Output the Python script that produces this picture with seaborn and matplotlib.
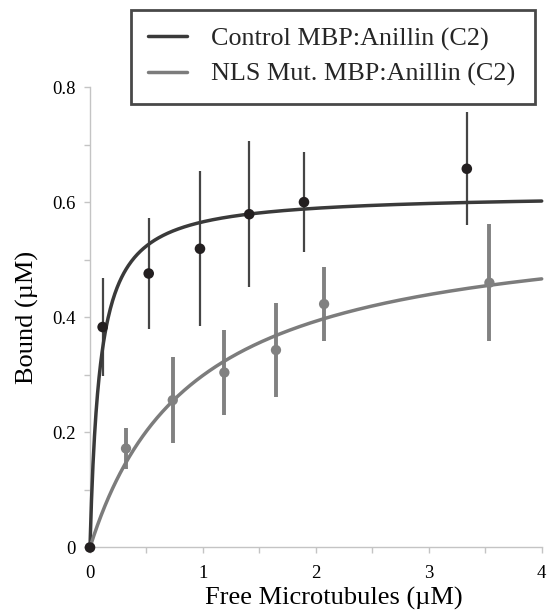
"""Microtubule co-sedimentation binding curves: control vs NLS mutant MBP:Anillin (C2)."""

import matplotlib

matplotlib.use("Agg")

import matplotlib.pyplot as plt
import numpy as np
import pandas as pd
import seaborn as sns
from matplotlib.lines import Line2D


# measured points (free MT in uM, bound in uM, error)
ctrl_free = [0.0, 0.112, 0.52, 0.974, 1.41, 1.895, 3.337]
ctrl_bound = [0.0, 0.383, 0.476, 0.519, 0.579, 0.600, 0.658]
ctrl_err = [0.0, 0.085, 0.096, 0.135, 0.127, 0.087, 0.098]

nls_free = [0.0, 0.319, 0.733, 1.19, 1.647, 2.073, 3.537]
nls_bound = [0.0, 0.172, 0.256, 0.304, 0.343, 0.423, 0.460]
nls_err = [0.0, 0.035, 0.075, 0.073, 0.081, 0.065, 0.102]

# hyperbolic fit parameters (Bmax, Kd)
ctrl_bmax, ctrl_kd = 0.615, 0.087
nls_bmax, nls_kd = 0.574, 0.92

labels = ["Control MBP:Anillin (C2)", "NLS Mut. MBP:Anillin (C2)"]
x_ticks = [0, 0.5, 1, 1.5, 2, 2.5, 3, 3.5, 4]
y_ticks = [0, 0.1, 0.2, 0.3, 0.4, 0.5, 0.6, 0.7, 0.8]

CTRL_LINE = "#3a3a3a"
CTRL_DOT = "#231f20"
NLS_LINE = "#7c7c7c"
NLS_DOT = "#818181"
AXIS = "#c4c4c4"


def binding_curve(bmax, kd, x):
    return bmax * x / (kd + x)


sns.set_theme(style="ticks")
plt.rcParams["font.family"] = ["Liberation Serif", "DejaVu Serif"]

fig = plt.figure(figsize=(5.48, 6.15), dpi=100)
ax = fig.add_axes([0.1642, 0.1098, 0.8243, 0.7487])

x_fit = np.linspace(0, 4, 600)
fit_df = pd.DataFrame(
    {
        "free": np.concatenate([x_fit, x_fit]),
        "bound": np.concatenate(
            [binding_curve(ctrl_bmax, ctrl_kd, x_fit), binding_curve(nls_bmax, nls_kd, x_fit)]
        ),
        "series": [labels[0]] * len(x_fit) + [labels[1]] * len(x_fit),
    }
)

# error bars first so dots sit on top
ax.errorbar(nls_free, nls_bound, yerr=nls_err, fmt="none", ecolor=NLS_DOT, elinewidth=2.8,
            capsize=0, zorder=2, clip_on=False)
ax.errorbar(ctrl_free, ctrl_bound, yerr=ctrl_err, fmt="none", ecolor="#454545", elinewidth=1.6,
            capsize=0, zorder=2, clip_on=False)

sns.lineplot(data=fit_df, x="free", y="bound", hue="series", palette=[CTRL_LINE, NLS_LINE],
             linewidth=2.5, legend=False, ax=ax, zorder=3)
for ln in ax.get_lines():
    ln.set_clip_on(False)

sns.scatterplot(x=nls_free, y=nls_bound, color=NLS_DOT, s=55, edgecolor="none", ax=ax,
                zorder=4, clip_on=False)
sns.scatterplot(x=ctrl_free, y=ctrl_bound, color=CTRL_DOT, s=58, edgecolor="none", ax=ax,
                zorder=5, clip_on=False)

ax.set_xlim(0, 4)
ax.set_ylim(0, 0.8)
ax.set_xticks(x_ticks)
ax.set_xticklabels([f"{t:g}" if float(t).is_integer() else "" for t in x_ticks])
ax.set_yticks(y_ticks)
ax.set_yticklabels([f"{t:g}" if round(t * 10) % 2 == 0 else "" for t in y_ticks])

sns.despine(ax=ax)
for side in ["left", "bottom"]:
    ax.spines[side].set_color(AXIS)
    ax.spines[side].set_linewidth(1.0)
ax.tick_params(axis="both", colors=AXIS, labelcolor="black", length=4.5, width=1.0,
               labelsize=13.5)
ax.tick_params(axis="x", pad=8)
ax.tick_params(axis="y", pad=6)

ax.set_xlabel("Free Microtubules (\u00b5M)", fontsize=19, color="black")
ax.set_ylabel("Bound (\u00b5M)", fontsize=19, color="black")
ax.xaxis.set_label_coords(0.54, -0.085)
ax.yaxis.set_label_coords(-0.112, 0.5)

handles = [
    Line2D([0], [0], color=CTRL_LINE, linewidth=2.5),
    Line2D([0], [0], color=NLS_LINE, linewidth=2.5),
]
leg = fig.legend(
    handles,
    labels,
    loc="upper left",
    bbox_to_anchor=(131 / 548, 1 - 10 / 615, 404 / 548, 0.0),
    mode="expand",
    fontsize=18.8,
    frameon=True,
    fancybox=False,
    handlelength=1.5,
    handletextpad=0.9,
    labelspacing=0.45,
    borderpad=0.66,
    borderaxespad=0.0,
)
leg.get_frame().set_edgecolor("#1a1a1a")
leg.get_frame().set_linewidth(2.0)

fig.savefig("out.png", dpi=100)
